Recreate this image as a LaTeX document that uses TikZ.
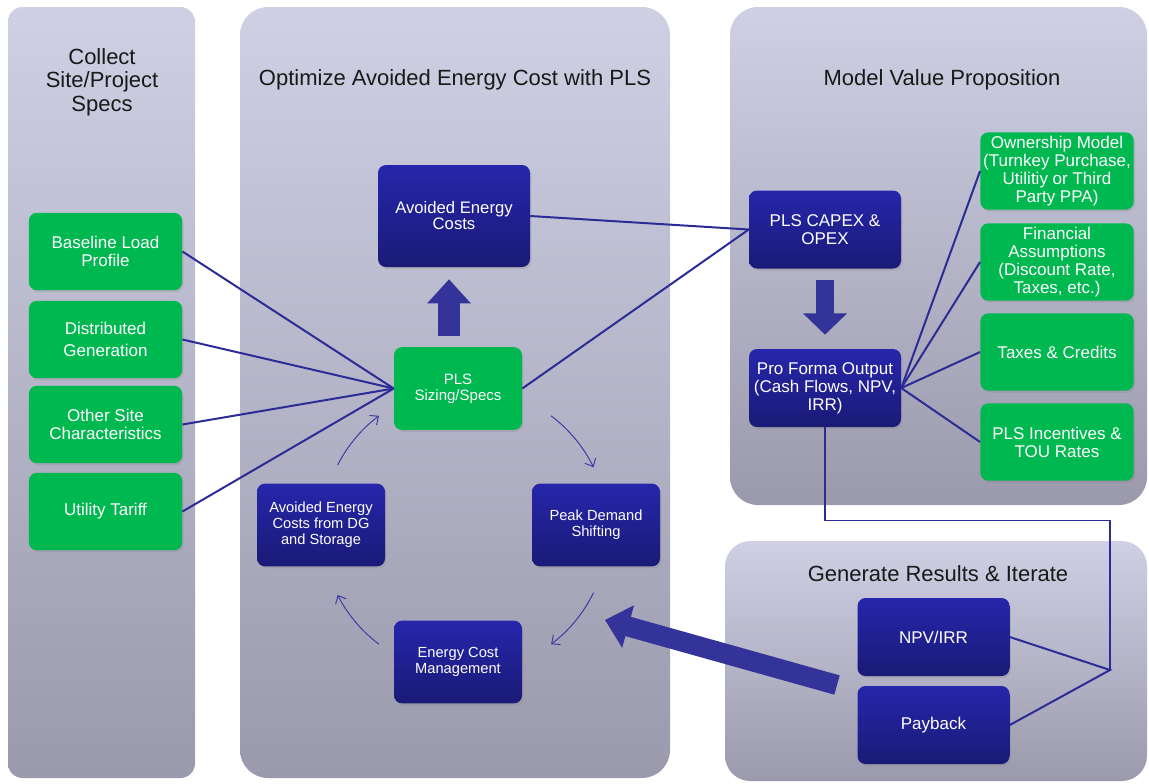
\documentclass[tikz,border=0pt]{standalone}
\usepackage{fontspec}
\setmainfont{Liberation Sans}
\usetikzlibrary{arrows.meta,shadows}

\begin{document}
\begin{tikzpicture}[x=0.75pt,y=0.75pt,yscale=-1,xscale=1,
    panel/.style={top color={rgb, 255:red, 207; green, 208; blue, 228 }, bottom color={rgb, 255:red, 155; green, 153; blue, 172 }},
    ttl/.style={text={rgb, 255:red, 25; green, 25; blue, 25 }, font=\fontsize{16.5}{17.6}\selectfont, align=center, inner sep=0.75pt},
    gbox/.style={fill={rgb, 255:red, 0; green, 184; blue, 80 }, rounded corners=6pt, text=white, align=center, inner sep=1pt,
        minimum width=115pt, minimum height=58pt, font=\fontsize{12.75}{13.5}\selectfont,
        drop shadow={opacity=0.25, shadow xshift=1pt, shadow yshift=-1.5pt}},
    bbox/.style={top color={rgb, 255:red, 38; green, 38; blue, 172 }, bottom color={rgb, 255:red, 26; green, 26; blue, 118 }, rounded corners=6pt, text=white, align=center, inner sep=1pt,
        minimum width=114pt, minimum height=58.5pt, font=\fontsize{12.75}{13.5}\selectfont,
        drop shadow={opacity=0.25, shadow xshift=1pt, shadow yshift=-1.5pt}},
    small/.style={minimum width=96pt, minimum height=62pt, font=\fontsize{11}{12}\selectfont},
    link/.style={draw={rgb, 255:red, 44; green, 44; blue, 150 }, line width=1.5pt},
    fat/.style={draw={rgb, 255:red, 51; green, 51; blue, 153 }},
    cyc/.style={draw={rgb, 255:red, 60; green, 60; blue, 165 }, line width=0.75pt, -{Straight Barb[length=5pt,width=9pt]}}
]
    \useasboundingbox (0,0) rectangle (1149,783);

    %Shape: Panels
    \path [panel, rounded corners=11pt] (8,7) rectangle (195,778) ;
    \path [panel, rounded corners=21pt] (240,7) rectangle (670,778) ;
    \path [panel, rounded corners=21pt] (730,7) rectangle (1147,505) ;
    \path [panel, rounded corners=19pt] (725,541) rectangle (1147,781) ;

    % Text Node
    \draw (102,82) node [ttl] (tcollect) {Collect\\Site/Project\\Specs};
    % Text Node
    \draw (455,80) node [ttl] (toptim) {Optimize Avoided Energy Cost with PLS};
    % Text Node
    \draw (942,80) node [ttl] (tmodel) {Model Value Proposition};
    % Text Node
    \draw (938,574) node [ttl] (tgen) {Generate Results \& Iterate};

    %Shape: Site specs
    \draw (105.5,251.5) node [gbox] (base) {Baseline Load\\Profile};
    \draw (105.5,339.5) node [gbox] (dgen) {Distributed\\[3.5pt]Generation};
    \draw (105.5,424.5) node [gbox] (other) {Other Site\\Characteristics};
    \draw (105.5,511.5) node [gbox] (tariff) {Utility Tariff};

    %Shape: Optimize
    \draw (454,216) node [bbox, minimum height=76.5pt, font=\fontsize{12.5}{12}\selectfont] (aec) {Avoided Energy\\Costs};
    \draw (458,388.5) node [gbox, small, font=\fontsize{11.25}{12}\selectfont] (pls) {PLS\\Sizing/Specs};
    \draw (596,525) node [bbox, small] (peak) {Peak Demand\\Shifting};
    \draw (458,662) node [bbox, small] (ecm) {Energy Cost\\Management};
    \draw (321,525) node [bbox, small] (adg) {Avoided Energy\\Costs from DG\\and Storage};

    %Shape: Value proposition
    \draw (825,229.5) node [bbox] (capex) {PLS CAPEX \&\\OPEX};
    \draw (825,388) node [bbox] (pfo) {Pro Forma Output\\(Cash Flows, NPV,\\IRR)};
    \draw (1057,171) node [gbox] (own) {Ownership Model\\(Turnkey Purchase,\\Utilitiy or Third\\Party PPA)};
    \draw (1057,262) node [gbox] (fin) {Financial\\Assumptions\\(Discount Rate,\\Taxes, etc.)};
    \draw (1057,352) node [gbox] (tax) {Taxes \& Credits};
    \draw (1057,442) node [gbox] (inc) {PLS Incentives \&\\TOU Rates};

    %Shape: Results
    \draw (933.5,637) node [bbox] (npv) {NPV/IRR};
    \draw (933.5,725) node [bbox] (pay) {Payback};

    %Straight Lines
    \draw [link] (base.east) -- (pls.west) ;
    \draw [link] (dgen.east) -- (pls.west) ;
    \draw [link] (other.east) -- (pls.west) ;
    \draw [link] (tariff.east) -- (pls.west) ;
    \draw [link] (aec.east) -- (capex.west) ;
    \draw [link] (pls.east) -- (capex.west) ;
    \draw [link] (pfo.east) -- (own.west) ;
    \draw [link] (pfo.east) -- (fin.west) ;
    \draw [link] (pfo.east) -- (tax.west) ;
    \draw [link] (pfo.east) -- (inc.west) ;
    \coordinate (jn) at (1110,670) ;
    \draw [link, line width=1.1pt] (pfo.south) -- ++(0,93) -| (jn) ;
    \draw [link] (npv.east) -- (jn) -- (pay.east) ;

    %Block Arrows
    \draw [fat, line width=16.5pt, -{Triangle[length=18pt,width=31.5pt]}, shorten <=8.25pt, shorten >=9pt] ([xshift=-6.75pt]pls.north) -- ([xshift=-3.75pt]aec.south) ;
    \draw [fat, line width=13.5pt, -{Triangle[length=16pt,width=32pt]}, shorten <=8.25pt, shorten >=10.5pt] (capex.south) -- (pfo.north) ;
    \coordinate (fbtail) at (837,685) ;
    \coordinate (fbtip) at (605,620) ;
    \draw [fat, line width=15pt, -{Triangle[length=18pt,width=32pt]}] (fbtail) -- (fbtip) ;

    %Curve Lines
    \coordinate (cc) at (465,530) ;
    \draw [cyc] (cc) ++(-53:143) arc [start angle=-53, end angle=-26, radius=143] ;
    \draw [cyc] (cc) ++(26:143) arc [start angle=26, end angle=53, radius=143] ;
    \draw [cyc] (cc) ++(127:143) arc [start angle=127, end angle=153, radius=143] ;
    \draw [cyc] (cc) ++(207:143) arc [start angle=207, end angle=233, radius=143] ;

\end{tikzpicture}
\end{document}
